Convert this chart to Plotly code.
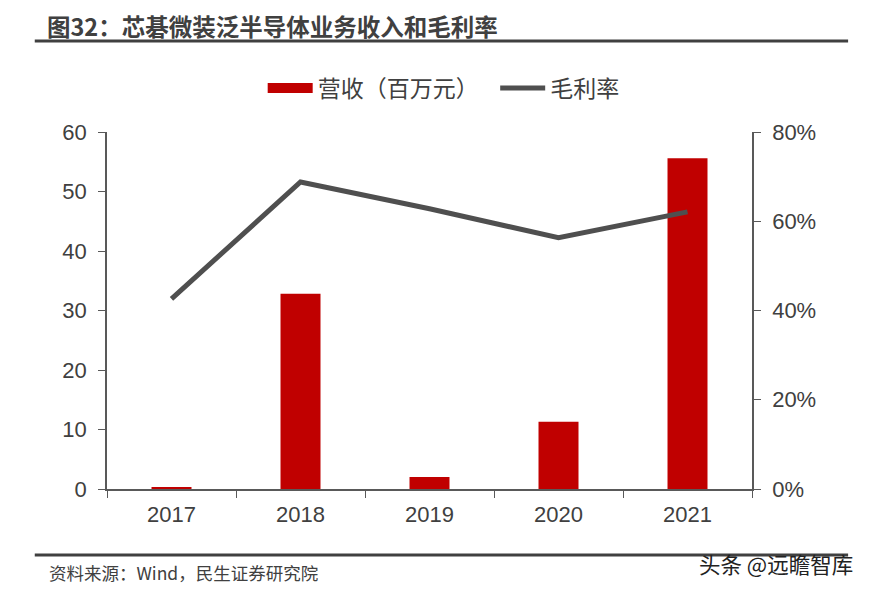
import plotly.graph_objects as go

years = ["2017", "2018", "2019", "2020", "2021"]
revenue = [0.3, 32.8, 2.0, 11.3, 55.6]          # 营收（百万元）
gross_margin = [0.426, 0.688, 0.628, 0.563, 0.621]  # 毛利率

axis_color = "#595959"
text_color = "#404040"
bar_color = "#C00000"
font_family = "Liberation Sans, Noto Sans CJK SC, sans-serif"

fig = go.Figure()
fig.add_trace(go.Bar(
    x=years, y=revenue, name="营收（百万元）", showlegend=False,
    marker=dict(color=bar_color, line=dict(width=0)),
    width=0.31, yaxis="y"
))
# legend entry drawn as a wide red block, like the original
fig.add_trace(go.Scatter(
    x=[None], y=[None], name="营收（百万元）\u3000", mode="lines",
    line=dict(color=bar_color, width=13), yaxis="y"
))
fig.add_trace(go.Scatter(
    x=years, y=gross_margin, name="毛利率", mode="lines",
    line=dict(color="#4F4F4F", width=5), yaxis="y2"
))

fig.update_layout(
    width=863, height=583,
    margin=dict(l=99, r=119, t=124, b=102),
    plot_bgcolor="white", paper_bgcolor="white",
    font=dict(family=font_family, color=text_color, size=22),
    showlegend=True,
    legend=dict(orientation="h", x=0.522, xanchor="center", y=1.123, yanchor="middle",
                font=dict(family="Noto Sans CJK SC", size=23, color=text_color), itemwidth=45,
                traceorder="normal", bgcolor="rgba(0,0,0,0)"),
    xaxis=dict(
        type="category", showline=True, linecolor=axis_color, linewidth=1.5,
        ticks="outside", tickson="boundaries", ticklen=7, tickcolor=axis_color,
        ticklabelstandoff=5,
        tickfont=dict(size=22, color=text_color), showgrid=False, zeroline=False
    ),
    yaxis=dict(
        range=[0, 60], dtick=10, showline=True, linecolor=axis_color, linewidth=1.5,
        ticks="outside", ticklen=7, tickcolor=axis_color, showgrid=False,
        ticklabelstandoff=7,
        zeroline=False, tickfont=dict(size=22, color=text_color)
    ),
    yaxis2=dict(
        range=[0, 0.8], dtick=0.2, tickformat=".0%", overlaying="y", side="right",
        showline=True, linecolor=axis_color, linewidth=1.5, ticks="outside",
        ticklen=7, tickcolor=axis_color, showgrid=False, zeroline=False,
        ticklabelstandoff=7,
        tickfont=dict(size=22, color=text_color)
    ),
    bargap=0.69,
)

# title, rules, source and watermark
fig.add_annotation(text="<b>图32：芯碁微装泛半导体业务收入和毛利率</b>", xref="paper", yref="paper",
                   x=-0.096, y=1.296, xanchor="left", yanchor="middle",
                   showarrow=False, font=dict(family="Noto Sans CJK SC", size=23.5, color=text_color))
fig.add_shape(type="line", xref="paper", yref="paper", x0=-0.112, x1=1.149,
              y0=1.255, y1=1.255, line=dict(color="#404040", width=3))
fig.add_shape(type="line", xref="paper", yref="paper", x0=-0.112, x1=1.149,
              y0=-0.185, y1=-0.185, line=dict(color="#404040", width=3))
fig.add_annotation(text="资料来源：Wind，民生证券研究院", xref="paper", yref="paper",
                   x=-0.093, y=-0.235, xanchor="left", yanchor="middle", showarrow=False,
                   font=dict(family="Noto Sans CJK SC", size=17.5, color=text_color))
fig.add_annotation(text="头条 @远瞻智库", xref="paper", yref="paper",
                   x=1.16, y=-0.21, xanchor="right", yanchor="middle", showarrow=False,
                   font=dict(family="Noto Sans CJK SC", size=21.5, color="#222222"))

fig.write_html("out.html")
